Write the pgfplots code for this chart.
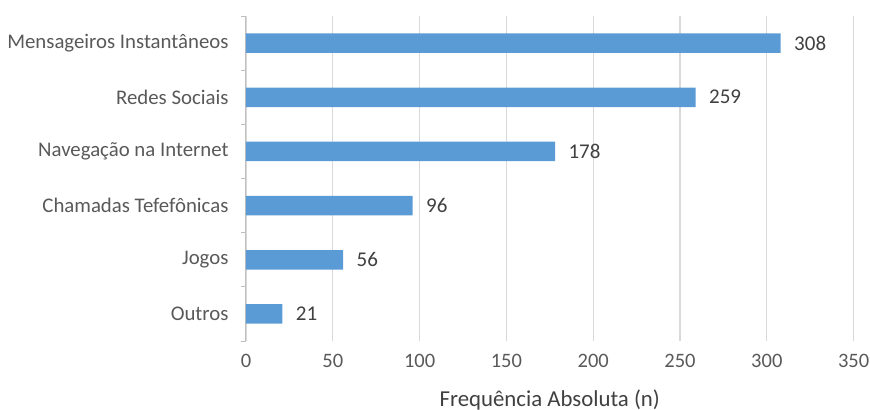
\documentclass[border=0pt]{standalone}
\usepackage{pgfplots}
\pgfplotsset{compat=1.18}
\usepackage{fontspec}
\setmainfont{Carlito}
\definecolor{barblue}{HTML}{5B9BD5}
\definecolor{gridgray}{HTML}{D9D9D9}
\definecolor{axisgray}{HTML}{BFBFBF}
\definecolor{txtgray}{HTML}{595959}
\definecolor{valgray}{HTML}{404040}
\begin{document}
\begin{tikzpicture}
\begin{axis}[
  at={(0,0)}, anchor=south west,
  scale only axis,
  width=607.6bp, height=325bp,
  xbar, bar width=19.5bp,
  xmin=0, xmax=350,
  ymin=-0.5, ymax=5.5,
  xtick={0,50,...,350},
  ytick={0,...,5},
  yticklabels={Outros,Jogos,Chamadas Tefefônicas,Navegação na Internet,Redes Sociais,Mensageiros Instantâneos},
  minor ytick={-0.5,0.5,...,5.5},
  tick align=outside,
  major tick length=0pt,
  minor tick length=5bp,
  minor tick style={axisgray, line width=1bp},
  xmajorgrids,
  grid style={gridgray, line width=1.3bp},
  axis x line*=bottom,
  x axis line style={draw=none},
  axis y line*=left,
  y axis line style={axisgray, line width=1bp, -},
  x tick label style={font=\fontsize{20.5bp}{22bp}\selectfont, text=txtgray, yshift=-10bp},
  y tick label style={font=\fontsize{20.8bp}{22bp}\selectfont, text=txtgray, xshift=-14bp},
  /pgf/number format/assume math mode=true,
  xlabel={Frequência Absoluta (n)},
  xlabel style={font=\fontsize{22.8bp}{25bp}\selectfont, text=valgray, at={(axis description cs:0.5,0)}, anchor=center, yshift=-59bp},
  nodes near coords,
  nodes near coords style={font=\fontsize{21bp}{23bp}\selectfont, text=valgray, anchor=west, xshift=10bp},
]
\addplot[fill=barblue, draw=none] coordinates {
  (21,0) (56,1) (96,2) (178,3) (259,4) (308,5)
};
\end{axis}
\pgfresetboundingbox
\path (-246bp,-69bp) rectangle (624bp,341bp);
\end{tikzpicture}
\end{document}
